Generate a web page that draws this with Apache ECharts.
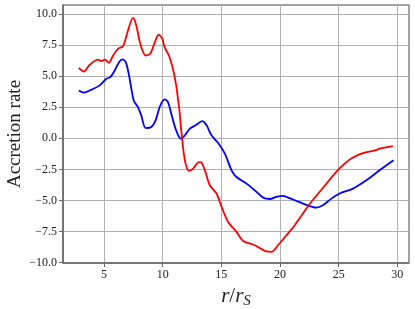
<!DOCTYPE html>
<html>
<head>
<meta charset="utf-8">
<script src="https://cdn.jsdelivr.net/npm/echarts@6/dist/echarts.min.js"></script>
<style>
html,body{margin:0;padding:0;background:#fff;}
#c{width:415px;height:309px;}
</style>
</head>
<body>
<div id="c"></div>
<script>
var xTicks = [5, 10, 15, 20, 25, 30];
var yTicks = [-10, -7.5, -5, -2.5, 0, 2.5, 5, 7.5, 10];

var redR = [2.85,3.27,3.78,4.49,4.77,5.06,5.4,5.77,6.19,6.62,6.96,7.47,7.75,8.09,8.55,8.94,9.23,9.66,9.96,10.16,10.53,10.87,11.15,11.32,11.44,11.61,11.89,12.23,12.6,13.09,13.31,13.6,14.02,14.59,15.02,15.58,16.29,16.86,17.85,18.7,19.27,19.83,20.55,21.26,22.53,23.66,24.8,25.51,26.22,27.07,28.2,28.49,29.62];
var redRate = [5.69,5.39,5.93,6.34,6.23,6.34,6.09,6.68,7.22,7.43,8.43,9.72,9.1,7.62,6.68,6.82,7.49,8.35,8.03,7.35,6.68,5.61,4.27,3.06,2.12,0.38,-1.77,-2.63,-2.44,-1.91,-1.96,-2.58,-3.78,-4.45,-5.53,-6.74,-7.54,-8.27,-8.62,-9.07,-9.15,-8.62,-7.81,-7.0,-5.3,-4.0,-2.71,-2.04,-1.55,-1.2,-0.95,-0.83,-0.62];

var blueR = [2.85,3.27,3.92,4.63,5.2,5.54,5.91,6.28,6.56,6.85,7.13,7.53,7.89,8.17,8.55,9.03,9.4,9.74,10.16,10.45,10.73,11.15,11.55,11.89,12.32,12.8,13.37,13.74,14.16,14.73,15.3,15.87,16.29,17.15,17.85,18.56,19.13,19.7,20.26,20.69,21.26,21.96,23.1,23.66,24.38,25.09,26.22,27.36,28.49,29.68];
var blueRate = [3.86,3.68,3.92,4.27,4.8,4.94,5.47,6.14,6.36,6.14,5.07,3.06,2.52,1.85,0.83,0.91,1.45,2.52,3.14,2.92,1.99,0.64,-0.03,0.24,0.78,1.05,1.39,1.05,0.24,-0.38,-1.23,-2.58,-3.12,-3.65,-4.19,-4.78,-4.89,-4.72,-4.64,-4.78,-4.99,-5.26,-5.58,-5.39,-4.86,-4.45,-4.05,-3.38,-2.58,-1.77];

function zip(a, b) { return a.map(function (v, i) { return [v, b[i]]; }); }

var font = "'Liberation Serif', 'DejaVu Serif', serif";
var chart = echarts.init(document.getElementById('c'), null, {renderer: 'canvas'});
chart.setOption({
  animation: false,
  backgroundColor: '#ffffff',
  grid: {left: 63, right: 6, top: 5, bottom: 46, containLabel: false, outerBoundsMode: 'none',
         show: true, borderColor: '#444', borderWidth: 1, backgroundColor: 'transparent'},
  xAxis: {
    type: 'value', min: 1.5, max: 31.0,
    axisLine: {show: true, onZero: false, lineStyle: {color: '#666', width: 1.5}},
    axisTick: {show: true, length: 4, lineStyle: {color: '#666', width: 1}, customValues: xTicks},
    axisLabel: {customValues: xTicks, color: '#222', fontFamily: font, fontSize: 12, margin: 6,
      formatter: function (v) { return String(v); }},
    splitLine: {show: true, lineStyle: {color: '#b0b0b0', width: 1}},
    name: '{i|r}{n|/}{i|r}{s|S}', nameLocation: 'middle', nameGap: 16,
    nameTextStyle: {rich: {
      i: {fontFamily: font, fontStyle: 'italic', fontSize: 21, color: '#222'},
      n: {fontFamily: font, fontSize: 21, color: '#222'},
      s: {fontFamily: font, fontStyle: 'italic', fontSize: 15, color: '#222', padding: [9, 0, 0, 0]}
    }}
  },
  yAxis: {
    type: 'value', min: -10.05, max: 10.75,
    axisLine: {show: true, onZero: false, lineStyle: {color: '#666', width: 1.5}},
    axisTick: {show: true, length: 4, lineStyle: {color: '#666', width: 1}, customValues: yTicks},
    axisLabel: {customValues: yTicks, color: '#222', fontFamily: font, fontSize: 12, margin: 6,
      formatter: function (v) { return (v < 0 ? '\u2212' : '') + Math.abs(v).toFixed(1); }},
    splitLine: {show: true, lineStyle: {color: '#b0b0b0', width: 1}},
    name: 'Accretion rate', nameLocation: 'middle', nameGap: 38, nameMoveOverlap: false,
    nameTextStyle: {fontFamily: font, fontSize: 19, color: '#222'}
  },
  series: [
    {type: 'line', data: zip(blueR, blueRate), showSymbol: false, smooth: 0.3,
     lineStyle: {color: '#0000ff', width: 1.8}, itemStyle: {color: '#0000ff'}},
    {type: 'line', data: zip(redR, redRate), showSymbol: false, smooth: 0.3,
     lineStyle: {color: '#ff0000', width: 1.8}, itemStyle: {color: '#ff0000'}}
  ]
});
</script>
</body>
</html>
